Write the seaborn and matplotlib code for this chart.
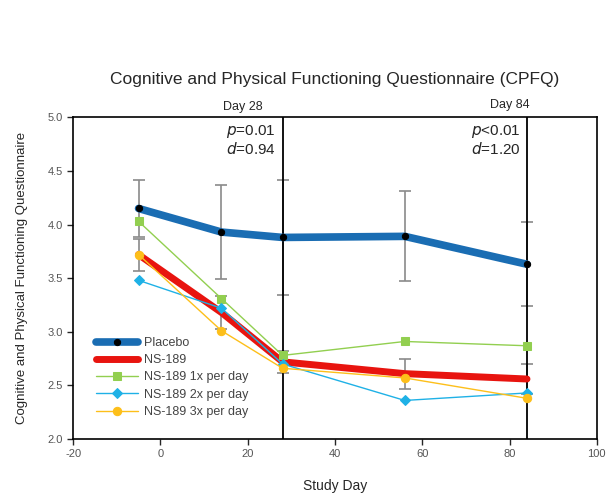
import matplotlib
matplotlib.use("Agg")
import matplotlib.pyplot as plt
import seaborn as sns
import pandas as pd

# study days and mean scores
days = [-5, 14, 28, 56, 84]
placebo = [4.15, 3.93, 3.88, 3.89, 3.63]
placebo_err = [0.27, 0.44, 0.54, 0.42, 0.39]
ns189 = [3.72, 3.18, 2.72, 2.61, 2.56]
ns189_err = [0.15, 0.15, 0.10, 0.14, 0.14]
ns189_1x = [4.03, 3.31, 2.78, 2.91, 2.87]
ns189_2x = [3.48, 3.22, 2.70, 2.36, 2.43]
ns189_3x = [3.72, 3.01, 2.66, 2.57, 2.38]

series_names = ["Placebo", "NS-189", "NS-189 1x per day", "NS-189 2x per day", "NS-189 3x per day"]
series_vals = [placebo, ns189, ns189_1x, ns189_2x, ns189_3x]
colors = ["#1a6db3", "#e8140f", "#92cf50", "#1fb1e6", "#fdbf1a"]
markers = ["o", None, "s", "D", "o"]
widths = [5.5, 5.0, 1.0, 1.0, 1.0]

sns.set_style("ticks")
plt.rcParams["font.family"] = ["Liberation Sans", "DejaVu Sans"]
plt.rcParams["axes.unicode_minus"] = False

fig, ax = plt.subplots(figsize=(6.09, 4.95), dpi=100)
fig.subplots_adjust(left=0.12, right=0.98, top=0.763, bottom=0.113)

# gray error bars behind the lines
ax.errorbar(days, placebo, yerr=placebo_err, fmt="none", ecolor="#8a8a8a",
            elinewidth=1.2, capsize=4.5, capthick=1.2, zorder=1)
ax.errorbar(days, ns189, yerr=ns189_err, fmt="none", ecolor="#8a8a8a",
            elinewidth=1.2, capsize=4.5, capthick=1.2, zorder=1)

for name, vals, c, m, w in zip(series_names, series_vals, colors, markers, widths):
    df = pd.DataFrame({"day": days, "score": vals})
    if name == "Placebo":
        sns.lineplot(data=df, x="day", y="score", ax=ax, color=c, linewidth=w,
                     marker="o", markersize=4.5, markerfacecolor="black",
                     markeredgecolor="black", label=name, zorder=3)
    elif m is None:
        sns.lineplot(data=df, x="day", y="score", ax=ax, color=c, linewidth=w,
                     label=name, zorder=4)
    else:
        sns.lineplot(data=df, x="day", y="score", ax=ax, color=c, linewidth=w,
                     marker=m, markersize=6 if m != "D" else 5.5,
                     markeredgecolor=c, label=name, zorder=5)

# day 28 / day 84 markers
for d in [28, 84]:
    ax.axvline(d, color="black", linewidth=1.3, zorder=2)

ax.text(26.5, 4.87, "$p$=0.01", ha="right", va="center", fontsize=11)
ax.text(26.5, 4.70, "$d$=0.94", ha="right", va="center", fontsize=11)
ax.text(82.5, 4.87, "$p$<0.01", ha="right", va="center", fontsize=11)
ax.text(82.5, 4.70, "$d$=1.20", ha="right", va="center", fontsize=11)
ax.text(19, 5.04, "Day 28", ha="center", va="bottom", fontsize=9)
ax.text(80, 5.06, "Day 84", ha="center", va="bottom", fontsize=9)

ax.set_xlim(-20, 100)
ax.set_ylim(2.0, 5.0)
ax.set_xticks([-20, 0, 20, 40, 60, 80, 100])
ax.set_yticks([2.0, 2.5, 3.0, 3.5, 4.0, 4.5, 5.0])
ax.set_yticklabels(["2.0", "2.5", "3.0", "3.5", "4.0", "4.5", "5.0"])
ax.tick_params(labelsize=8, labelcolor="#555555", length=4, width=1)
for s in ax.spines.values():
    s.set_color("black")
    s.set_linewidth(1.2)

ax.set_xlabel("Study Day", fontsize=10, labelpad=14)
ax.set_ylabel("Cognitive and Physical Functioning Questionnaire", fontsize=9.5, labelpad=14)
ax.set_title("Cognitive and Physical Functioning Questionnaire (CPFQ)", fontsize=12.5, pad=24)

leg = ax.legend(loc="lower left", bbox_to_anchor=(0.035, 0.05), frameon=False,
                fontsize=9, handlelength=3.3, labelspacing=0.42, borderaxespad=0,
                handletextpad=0.5)
for t in leg.get_texts():
    t.set_color("#444444")

fig.savefig("out.png", dpi=100)
